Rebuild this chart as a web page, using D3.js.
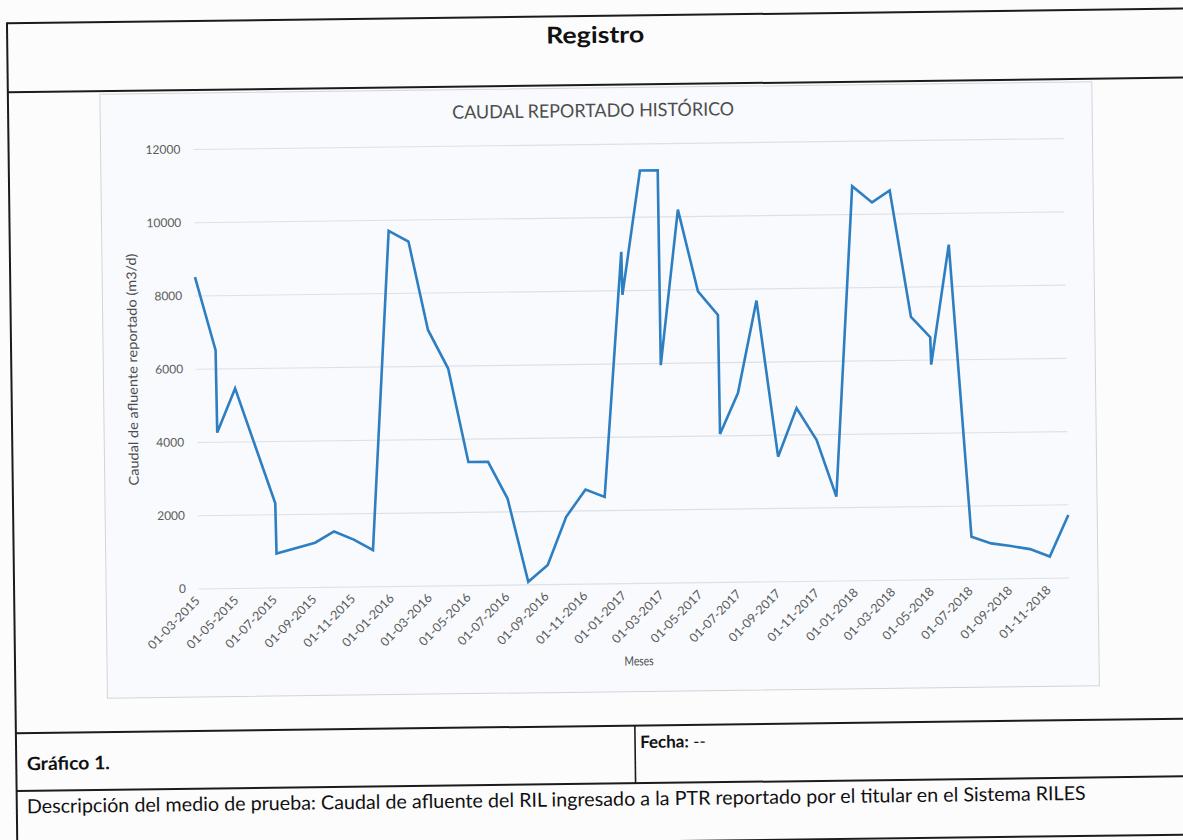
<!DOCTYPE html>
<html>
<head>
<meta charset="utf-8">
<script src="https://cdn.jsdelivr.net/npm/d3@7"></script>
<style>
  html, body { margin: 0; padding: 0; background: #fcfcfd; }
  svg { display: block; }
</style>
</head>
<body>
<svg id="chart" width="1183" height="840"></svg>
<script>
// ---- data ----
const fechas = ["2015-03-01","2015-04-01","2015-04-02","2015-05-01","2015-07-01","2015-07-02","2015-09-01","2015-10-01","2015-11-01","2015-12-01",
  "2016-01-01","2016-02-01","2016-03-01","2016-04-01","2016-05-01","2016-06-01","2016-07-01","2016-08-01","2016-09-01","2016-10-01","2016-11-01","2016-12-01",
  "2017-01-01","2017-01-02","2017-02-01","2017-03-01","2017-03-02","2017-04-01","2017-05-01","2017-06-01","2017-06-02","2017-07-01","2017-08-01","2017-09-01","2017-10-01","2017-11-01","2017-12-01",
  "2018-01-01","2018-02-01","2018-03-01","2018-04-01","2018-05-01","2018-05-02","2018-06-01","2018-07-01","2018-08-01","2018-09-01","2018-10-01","2018-11-01","2018-12-01"];
const caudal = [8500,6500,4250,5450,2300,930,1210,1510,1280,990,
  9700,9400,6980,5920,3360,3360,2350,70,520,1830,2570,2360,
  9050,7870,11260,11260,5940,10180,7940,7290,4040,5150,7670,3400,4720,3840,2290,
  10760,10310,10630,7170,6610,5860,9130,1150,960,880,790,580,1710];
const xTickLabels = ["01-03-2015","01-05-2015","01-07-2015","01-09-2015","01-11-2015","01-01-2016","01-03-2016","01-05-2016","01-07-2016","01-09-2016","01-11-2016",
  "01-01-2017","01-03-2017","01-05-2017","01-07-2017","01-09-2017","01-11-2017","01-01-2018","01-03-2018","01-05-2018","01-07-2018","01-09-2018","01-11-2018"];
const yTicks = [0,2000,4000,6000,8000,10000,12000];

const titulo = "Registro";
const tituloGrafico = "CAUDAL REPORTADO HISTÓRICO";
const ejeY = "Caudal de afluente reportado (m3/d)";
const ejeX = "Meses";
const grafico = "Gráfico 1.";
const fechaLbl = "Fecha:";
const fechaVal = " --";
const descripcion = "Descripción del medio de prueba: Caudal de afluente del RIL ingresado a la PTR reportado por el titular en el Sistema RILES";

// ---- drawing ----
const parseISO = d3.utcParse("%Y-%m-%d");
const parseLbl = d3.utcParse("%d-%m-%Y");
const data = fechas.map((f, i) => ({ date: parseISO(f), value: caudal[i] }));

const FONT = "Lato, 'Open Sans', 'Noto Sans', sans-serif";
const svg = d3.select("#chart");
svg.append("rect").attr("width", 1183).attr("height", 840).attr("fill", "#fcfcfd");

// whole scanned page is slightly rotated
const root = svg.append("g").attr("transform", "rotate(-0.72,596,420)");

// table lines
const ink = "#1b1b1b";
const hline = (y, x1, x2) => root.append("line").attr("x1", x1).attr("x2", x2).attr("y1", y).attr("y2", y)
  .attr("stroke", ink).attr("stroke-width", 2);
hline(16, 12, 1200);
hline(85, 12, 1200);
hline(726, 12, 1200);
hline(783.7, 12, 1200);
hline(842, 12, 1200);
root.append("line").attr("x1", 12).attr("x2", 12).attr("y1", 15).attr("y2", 860)
  .attr("stroke", ink).attr("stroke-width", 2);
root.append("line").attr("x1", 631).attr("x2", 631).attr("y1", 726).attr("y2", 783.7)
  .attr("stroke", ink).attr("stroke-width", 1.6);

// header text
root.append("text").attr("x", 600).attr("y", 43).attr("text-anchor", "middle")
  .attr("font-family", FONT).attr("font-weight", 700).attr("font-size", 23).attr("fill", "#111")
  .attr("textLength", 98).attr("lengthAdjust", "spacingAndGlyphs").text(titulo);

// chart frame
root.append("rect").attr("x", 104).attr("y", 88).attr("width", 992).attr("height", 604)
  .attr("fill", "#f8fafd").attr("stroke", "#d2d4d8").attr("stroke-width", 1);

root.append("text").attr("x", 597).attr("y", 117).attr("text-anchor", "middle")
  .attr("font-family", FONT).attr("font-size", 18.5).attr("fill", "#4d4d4d")
  .attr("textLength", 282).attr("lengthAdjust", "spacingAndGlyphs").text(tituloGrafico);

// scales
const x = d3.scaleUtc().domain(d3.extent(data, d => d.date)).range([196.8, 1067.1]);
const y = d3.scaleLinear().domain([0, 12000]).range([583.5, 144]);

// gridlines
const grid = root.append("g").attr("transform", `translate(${x.range()[0]},0)`)
  .call(d3.axisLeft(y).tickValues(yTicks).tickSize(-(x.range()[1] - x.range()[0])).tickFormat(""));
grid.select(".domain").remove();
grid.selectAll("line").attr("stroke", "#dde1e7").attr("stroke-width", 1.1);

// y axis labels
const ya = root.append("g").attr("transform", `translate(${x.range()[0] - 13},0)`)
  .call(d3.axisLeft(y).tickValues(yTicks).tickSize(0).tickPadding(0).tickFormat(d3.format("d")));
ya.select(".domain").remove();
ya.selectAll("text").attr("font-family", FONT).attr("font-size", 12).attr("fill", "#5a5a5a");

// x axis labels
const xa = root.append("g").attr("transform", `translate(1,${y(0) + 13})`)
  .call(d3.axisBottom(x).tickValues(xTickLabels.map(parseLbl)).tickSize(0).tickPadding(0)
    .tickFormat(d3.utcFormat("%d-%m-%Y")));
xa.select(".domain").remove();
xa.selectAll("text").attr("font-family", FONT).attr("font-size", 12.3).attr("fill", "#5a5a5a")
  .attr("text-anchor", "end").attr("dy", "0").attr("transform", "rotate(-45)")
  .attr("textLength", 68).attr("lengthAdjust", "spacingAndGlyphs");

// axis titles
root.append("text").attr("transform", `translate(138,${(y.range()[0] + y.range()[1]) / 2}) rotate(-90)`)
  .attr("text-anchor", "middle").attr("font-family", FONT).attr("font-size", 13.5).attr("fill", "#4d4d4d")
  .attr("textLength", 232).attr("lengthAdjust", "spacingAndGlyphs").text(ejeY);
root.append("text").attr("x", 636).attr("y", 666).attr("text-anchor", "middle")
  .attr("font-family", FONT).attr("font-size", 13).attr("fill", "#4d4d4d")
  .attr("textLength", 29).attr("lengthAdjust", "spacingAndGlyphs").text(ejeX);

// series line
root.append("path").datum(data)
  .attr("fill", "none").attr("stroke", "#2e7ec2").attr("stroke-width", 2.6)
  .attr("stroke-linejoin", "miter").attr("stroke-miterlimit", 4)
  .attr("d", d3.line().x(d => x(d.date)).y(d => y(d.value)));

// footer texts
root.append("text").attr("x", 22.6).attr("y", 763).attr("font-family", FONT).attr("font-weight", 700)
  .attr("font-size", 18.5).attr("fill", "#111")
  .attr("textLength", 83).attr("lengthAdjust", "spacingAndGlyphs").text(grafico);
const ft = root.append("text").attr("x", 636).attr("y", 748.6).attr("font-family", FONT)
  .attr("font-size", 17).attr("fill", "#111");
ft.append("tspan").attr("font-weight", 700).text(fechaLbl);
ft.append("tspan").text(fechaVal);
root.append("text").attr("x", 22).attr("y", 806).attr("font-family", FONT)
  .attr("font-size", 19.5).attr("fill", "#111")
  .attr("textLength", 1059).attr("lengthAdjust", "spacingAndGlyphs").text(descripcion);
</script>
</body>
</html>
